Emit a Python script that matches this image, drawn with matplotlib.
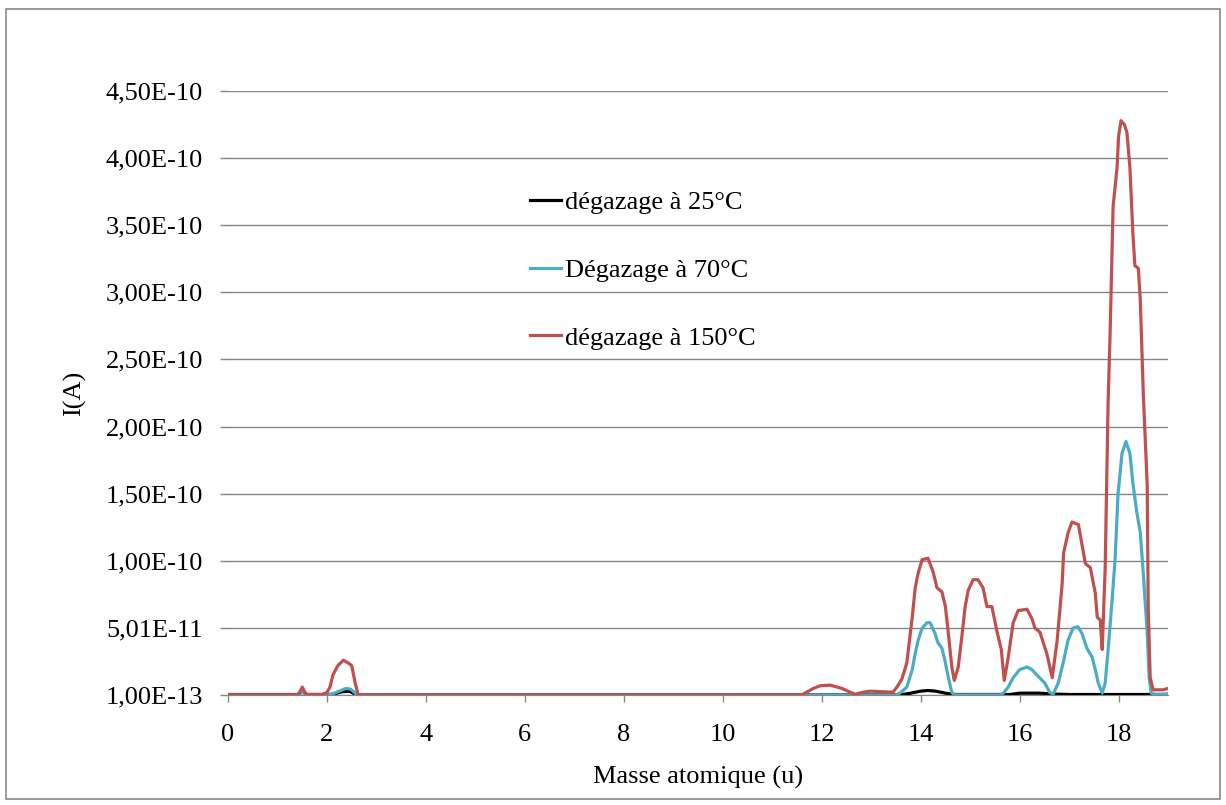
# -*- coding: utf-8 -*-
import numpy as np
import matplotlib
matplotlib.use('Agg')
import matplotlib.pyplot as plt
from matplotlib.patches import Rectangle

plt.rcParams['font.family'] = ['Liberation Serif', 'DejaVu Serif']

black = 'black'
blue = '#4BACC6'
red = '#C0504D'
gridGrey = '#868686'
fontSize = 19

# values are in units of 1e-11 A
mass25 = [0, 1.4, 1.5, 1.6, 2.1, 2.3, 2.45, 2.6, 13.6, 13.8, 14.0, 14.15,
          14.3, 14.5, 14.7, 15.8, 16.0, 16.4, 16.7, 17.0, 19]
current25 = [0.05, 0.05, 0.25, 0.05, 0.05, 0.25, 0.3, 0.03, 0.03, 0.15, 0.3,
             0.35, 0.3, 0.15, 0.05, 0.05, 0.15, 0.15, 0.08, 0.05, 0.05]

mass70 = [0, 1.4, 1.5, 1.58, 2.0, 2.15, 2.28, 2.38, 2.48, 2.6, 2.7,
          13.5, 13.58, 13.72, 13.83, 13.89, 13.95, 14.03, 14.13, 14.19, 14.29,
          14.35, 14.43, 14.49, 14.56, 14.63, 14.69, 15.6, 15.67, 15.77, 15.87,
          16.0, 16.15, 16.25, 16.35, 16.51, 16.61, 16.68, 16.78, 16.88, 16.98,
          17.08, 17.18, 17.26, 17.36, 17.47, 17.53, 17.59, 17.67, 17.73, 17.79,
          17.87, 17.93, 17.99, 18.07, 18.15, 18.23, 18.29, 18.37, 18.44, 18.5,
          18.58, 18.62, 18.66, 18.75, 19]
current70 = [0.02, 0.02, 0.25, 0.02, 0.02, 0.15, 0.35, 0.5, 0.45, 0.05, 0.02,
             0.02, 0.15, 0.6, 1.9, 3.1, 4.1, 5.0, 5.4, 5.4, 4.6,
             3.9, 3.5, 2.6, 1.3, 0.2, 0.02, 0.02, 0.15, 0.6, 1.3,
             1.9, 2.1, 1.9, 1.5, 0.9, 0.2, 0.08, 0.9, 2.4, 4.1,
             5.0, 5.1, 4.6, 3.5, 2.8, 1.9, 0.9, 0.15, 0.9, 3.4,
             7.1, 10.1, 15.0, 18.0, 18.9, 18.0, 15.8, 13.6, 12.1, 9.1,
             4.6, 1.3, 0.15, 0.05, 0.1]

mass150 = [0, 1.42, 1.5, 1.58, 1.9, 2.0, 2.06, 2.12, 2.22, 2.33, 2.43, 2.5,
           2.57, 2.63, 11.6, 11.66, 11.83, 11.97, 12.17, 12.41, 12.53, 12.67,
           12.84, 12.98, 13.44, 13.52, 13.62, 13.72, 13.83, 13.89, 13.95, 14.03,
           14.15, 14.25, 14.33, 14.43, 14.5, 14.56, 14.63, 14.68, 14.76, 14.84,
           14.9, 14.96, 15.06, 15.16, 15.26, 15.34, 15.44, 15.54, 15.63, 15.69,
           15.77, 15.87, 15.97, 16.15, 16.25, 16.31, 16.41, 16.55, 16.66, 16.76,
           16.86, 16.89, 16.98, 17.06, 17.19, 17.33, 17.43, 17.53, 17.57, 17.63,
           17.67, 17.73, 17.79, 17.83, 17.89, 17.97, 18.0, 18.05, 18.12, 18.17,
           18.23, 18.29, 18.33, 18.4, 18.44, 18.5, 18.58, 18.6, 18.64, 18.7,
           18.9, 19]
current150 = [0.02, 0.02, 0.6, 0.05, 0.05, 0.2, 0.6, 1.5, 2.2, 2.6, 2.4, 2.2,
              0.9, 0.02, 0.02, 0.15, 0.5, 0.7, 0.75, 0.5, 0.3, 0.07,
              0.22, 0.3, 0.22, 0.6, 1.2, 2.4, 5.8, 8.0, 9.1, 10.1,
              10.2, 9.2, 8.0, 7.7, 6.6, 4.6, 2.1, 1.1, 2.1, 4.6,
              6.6, 7.8, 8.6, 8.6, 8.0, 6.6, 6.6, 4.8, 3.4, 1.1,
              2.8, 5.4, 6.3, 6.4, 5.7, 5.0, 4.7, 3.1, 1.3, 4.1,
              8.3, 10.6, 12.1, 12.9, 12.7, 9.8, 9.5, 7.6, 5.8, 5.6,
              3.4, 9.5, 22.0, 27.0, 36.4, 39.3, 41.6, 42.8, 42.5, 41.9,
              39.3, 34.4, 32.0, 31.8, 29.4, 22.5, 15.6, 6.5, 1.3, 0.4,
              0.4, 0.5]

yTickLabels = ['1,00E-13', '5,01E-11', '1,00E-10', '1,50E-10', '2,00E-10',
               '2,50E-10', '3,00E-10', '3,50E-10', '4,00E-10', '4,50E-10']
xTicks = [0, 2, 4, 6, 8, 10, 12, 14, 16, 18]

fig = plt.figure(figsize=(12.26, 8.05), dpi=100)
ax = fig.add_axes([0.186, 0.1366, 0.7667, 0.7504])

scale = 1e-11
ax.plot(mass25, np.array(current25) * scale, color=black, lw=2.3,
        label='dégazage à 25°C', zorder=3)
ax.plot(mass70, np.array(current70) * scale, color=blue, lw=2.3,
        label='Dégazage à 70°C', zorder=4)
ax.plot(mass150, np.array(current150) * scale, color=red, lw=2.3,
        label='dégazage à 150°C', zorder=5)

yMin = 1e-13
yTicks = yMin + 5e-11 * np.arange(len(yTickLabels))
ax.set_ylim(yMin, yTicks[-1])
ax.set_xlim(0, 19)
ax.set_yticks(yTicks)
ax.set_yticklabels(yTickLabels)
ax.set_xticks(xTicks)
ax.set_xticklabels([str(t) for t in xTicks])

ax.grid(axis='y', color=gridGrey, lw=1.0, zorder=0)
ax.set_axisbelow(True)
for side in ['left', 'right', 'top']:
    ax.spines[side].set_visible(False)
ax.spines['bottom'].set_color(gridGrey)

ax.tick_params(axis='y', length=6, color=gridGrey, width=1.0, pad=12,
               labelsize=fontSize)
ax.tick_params(axis='x', length=5, color=gridGrey, width=1.0, pad=16,
               labelsize=fontSize)

ax.set_xlabel('Masse atomique (u)', fontsize=fontSize, labelpad=14)
ax.set_ylabel('I(A)', fontsize=fontSize, labelpad=14)

leg = ax.legend(loc='upper left', bbox_to_anchor=(0.321, 0.835),
                frameon=False, fontsize=fontSize, handlelength=1.2,
                handletextpad=0.12, labelspacing=1.68, borderpad=0,
                borderaxespad=0)

# outer chart border
fig.patches.append(Rectangle((6 / 1226, 6 / 805), 1214 / 1226, 790 / 805,
                             transform=fig.transFigure, fill=False,
                             edgecolor=gridGrey, lw=1.2))

fig.savefig('out.png', dpi=100)
